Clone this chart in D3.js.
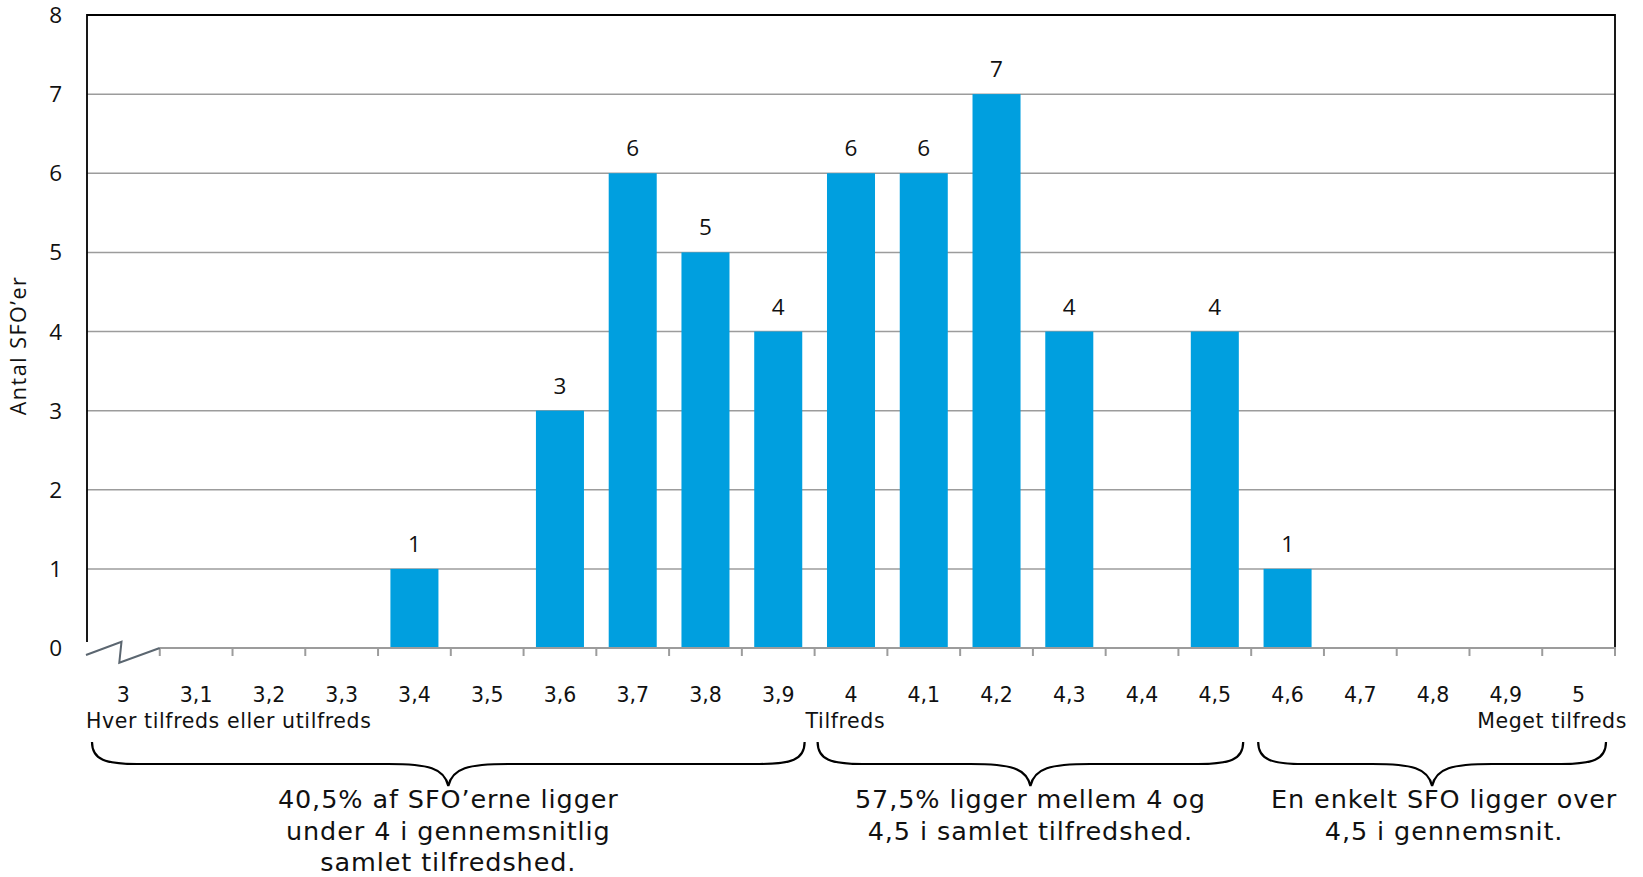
<!DOCTYPE html>
<html>
<head>
<meta charset="utf-8">
<script src="https://cdn.jsdelivr.net/npm/d3@7/dist/d3.min.js"></script>
<style>
  html, body { margin: 0; padding: 0; background: #fff; }
  svg { display: block; }
</style>
</head>
<body>
<svg id="chart" width="1643" height="877"></svg>
<script>
// ---- data ----
const categories = ["3","3,1","3,2","3,3","3,4","3,5","3,6","3,7","3,8","3,9","4","4,1","4,2","4,3","4,4","4,5","4,6","4,7","4,8","4,9","5"];
const counts     = [0,0,0,0,1,0,3,6,5,4,6,6,7,4,0,4,1,0,0,0,0];
const yTicks = [0,1,2,3,4,5,6,7,8];
const yTitle = "Antal SFO’er";
const scaleLabels = [
  {cat: "3", text: "Hver tilfreds eller utilfreds", anchor: "start"},
  {cat: "4", text: "Tilfreds", anchor: "start"},
  {cat: "5", text: "Meget tilfreds", anchor: "end"}
];
const groups = [
  {from: "3", to: "3,9", lines: ["40,5% af SFO’erne ligger", "under 4 i gennemsnitlig", "samlet tilfredshed."]},
  {from: "4", to: "4,5", lines: ["57,5% ligger mellem 4 og", "4,5 i samlet tilfredshed."]},
  {from: "4,6", to: "5", lines: ["En enkelt SFO ligger over", "4,5 i gennemsnit."]}
];

// ---- layout ----
const svg = d3.select("#chart");
const pLeft = 87, pRight = 1615, pTop = 15, pBottom = 648;
const x = d3.scaleBand().domain(categories).range([pLeft, pRight]).paddingInner(0.34).paddingOuter(0.17);
const y = d3.scaleLinear().domain([0, 8]).range([pBottom, pTop]);
const step = x.step();
const catStart = c => x(c) - step * 0.17;
const catEnd = c => catStart(c) + step;

const numFont = "'Open Sans', sans-serif";
const txtFont = "'DejaVu Sans', Verdana, sans-serif";

// gridlines
svg.append("g").selectAll("line").data(yTicks.filter(d => d > 0)).join("line")
  .attr("x1", pLeft).attr("x2", pRight)
  .attr("y1", d => y(d)).attr("y2", d => y(d))
  .attr("stroke", "#9c9c9c").attr("stroke-width", 1.5);

const barData = categories.map((c, i) => ({c, v: counts[i]})).filter(d => d.v > 0);

// bars
svg.append("g").selectAll("rect").data(barData).join("rect")
  .attr("x", d => x(d.c)).attr("width", x.bandwidth())
  .attr("y", d => y(d.v)).attr("height", d => y(0) - y(d.v))
  .attr("fill", "#009FDF");

// data labels
svg.append("g").selectAll("text").data(barData).join("text")
  .attr("x", d => x(d.c) + x.bandwidth() / 2)
  .attr("y", d => y(d.v) - 17)
  .attr("text-anchor", "middle")
  .attr("font-family", numFont).attr("font-size", 22.5).attr("fill", "#111")
  .text(d => d.v);

// plot border (top, left, right)
svg.append("path")
  .attr("d", `M${pLeft},${pBottom - 6} L${pLeft},${pTop} L${pRight},${pTop} L${pRight},${pBottom}`)
  .attr("fill", "none").attr("stroke", "#000").attr("stroke-width", 1.8);

// x axis line (from after the break)
svg.append("line")
  .attr("x1", catEnd(categories[0])).attr("x2", pRight + 1)
  .attr("y1", pBottom).attr("y2", pBottom)
  .attr("stroke", "#9c9c9c").attr("stroke-width", 2);

// ticks at category boundaries
svg.append("g").selectAll("line").data(categories.slice(1)).join("line")
  .attr("x1", d => catStart(d)).attr("x2", d => catStart(d))
  .attr("y1", pBottom).attr("y2", pBottom + 8)
  .attr("stroke", "#9c9c9c").attr("stroke-width", 2);
svg.append("line")
  .attr("x1", pRight).attr("x2", pRight).attr("y1", pBottom).attr("y2", pBottom + 8)
  .attr("stroke", "#9c9c9c").attr("stroke-width", 2);

// axis break zigzag
const b0 = catStart(categories[0]), b1 = catEnd(categories[0]);
svg.append("path")
  .attr("d", `M${b0 - 1},${pBottom + 7} L${b0 + 34.5},${pBottom - 6.3} L${b0 + 32.3},${pBottom + 14.7} L${b1},${pBottom}`)
  .attr("fill", "none").attr("stroke", "#5b6670").attr("stroke-width", 2);

// y tick labels
svg.append("g").selectAll("text").data(yTicks).join("text")
  .attr("x", 62).attr("y", d => y(d)).attr("dy", "0.36em")
  .attr("text-anchor", "end")
  .attr("font-family", numFont).attr("font-size", 22.5).attr("fill", "#111")
  .text(d => d);

// y title
svg.append("text")
  .attr("transform", `translate(26,${(pTop + pBottom) / 2 + 14}) rotate(-90)`)
  .attr("text-anchor", "middle")
  .attr("font-family", numFont).attr("font-size", 21.5).attr("letter-spacing", 1.5).attr("fill", "#111")
  .text(yTitle);

// x tick labels
svg.append("g").selectAll("text").data(categories).join("text")
  .attr("x", d => x(d) + x.bandwidth() / 2).attr("y", 702)
  .attr("text-anchor", "middle")
  .attr("font-family", txtFont).attr("font-size", 20.5).attr("fill", "#111")
  .text(d => d);

// scale descriptor labels
svg.append("g").selectAll("text").data(scaleLabels).join("text")
  .attr("x", d => d.anchor === "start" ? catStart(d.cat) - (d.cat === "3" ? 1 : 9) : catEnd(d.cat) + 12)
  .attr("y", 728)
  .attr("text-anchor", d => d.anchor)
  .attr("font-family", txtFont).attr("font-size", 20.5).attr("letter-spacing", 0.6).attr("fill", "#111")
  .text(d => d.text);

// braces
const yTop = 742, yMid = 764, yTip = 786;
function bracePath(x0, x1, xm) {
  return `M${x0},${yTop} C${x0},${yMid - 4} ${x0 + 14},${yMid} ${x0 + 45},${yMid}` +
         ` L${xm - 60},${yMid} C${xm - 20},${yMid} ${xm - 4},${yMid + 4} ${xm},${yTip}` +
         ` C${xm + 4},${yMid + 4} ${xm + 20},${yMid} ${xm + 60},${yMid}` +
         ` L${x1 - 45},${yMid} C${x1 - 14},${yMid} ${x1},${yMid - 4} ${x1},${yTop}`;
}
const braceOffsets = [[5, -10], [3, -8], [7, -9]];
groups.forEach((g, i) => {
  const x0 = catStart(g.from) + braceOffsets[i][0];
  const x1 = catEnd(g.to) + braceOffsets[i][1];
  const xm = (x0 + x1) / 2;
  svg.append("path").attr("d", bracePath(x0, x1, xm))
    .attr("fill", "none").attr("stroke", "#000").attr("stroke-width", 2.2);
  const t = svg.append("text")
    .attr("text-anchor", "middle")
    .attr("font-family", txtFont).attr("font-size", 25.5).attr("letter-spacing", 0.9).attr("fill", "#111");
  g.lines.forEach((ln, j) => {
    t.append("tspan").attr("x", xm + (i === 2 ? 12 : 0)).attr("y", 808 + j * 31.5).text(ln);
  });
});
</script>
</body>
</html>
